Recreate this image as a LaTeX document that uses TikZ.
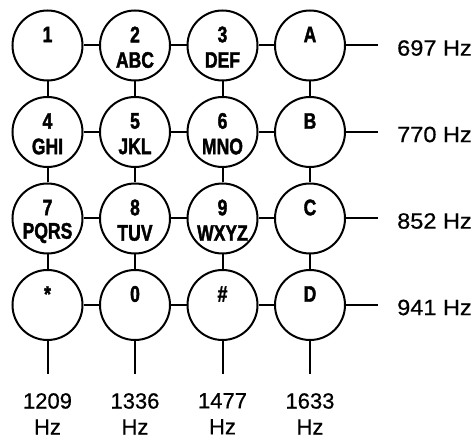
\documentclass[tikz,border=0pt]{standalone}
\usepackage{fontspec}
\usepackage{graphicx}
\setmainfont{Liberation Sans}
\newfontfamily\keyfont[BoldFeatures={FakeBold=2}]{Liberation Sans}
\newfontfamily\freqfont[FakeBold=0.6]{Liberation Sans}
\tikzset{
  keycircle/.style={circle, draw, line width=2pt, minimum size=70pt, inner sep=0pt},
  keytxt/.style={inner sep=0pt, font=\keyfont\bfseries\fontsize{22.5}{22.5}\selectfont},
  wire/.style={line width=2pt},
  freq/.style={inner sep=0pt, font=\freqfont\fontsize{22}{26}\selectfont, align=center},
}
% one key of the pad: name, x, y, upper text, lower text
\newcommand{\padkey}[5]{%
  \node[keycircle] (#1) at (#2,#3) {};
  \node[keytxt] (#1t) at ([yshift=11pt]#1.center) {\scalebox{0.78}[1]{#4}};
  \node[keytxt] (#1b) at ([yshift=-14.5pt]#1.center) {\scalebox{0.78}[1]{#5}};
}
\begin{document}
\begin{tikzpicture}[x=1pt,y=-1pt]
\useasboundingbox (0,0) rectangle (475,441);
% rows: 697, 770, 852, 941 Hz; columns: 1209, 1336, 1477, 1633 Hz
\padkey{k11}{47.5}{45.5}{1}{}
\padkey{k12}{135}{45.5}{2}{ABC}
\padkey{k13}{222.5}{45.5}{3}{DEF}
\padkey{k14}{310}{45.5}{A}{}
\padkey{k21}{47.5}{132}{4}{GHI}
\padkey{k22}{135}{132}{5}{JKL}
\padkey{k23}{222.5}{132}{6}{MNO}
\padkey{k24}{310}{132}{B}{}
\padkey{k31}{47.5}{218.5}{7}{PQRS}
\padkey{k32}{135}{218.5}{8}{TUV}
\padkey{k33}{222.5}{218.5}{9}{WXYZ}
\padkey{k34}{310}{218.5}{C}{}
\padkey{k41}{47.5}{305}{*}{}
\padkey{k42}{135}{305}{0}{}
\padkey{k43}{222.5}{305}{\#}{}
\padkey{k44}{310}{305}{D}{}
% grid wiring between keys
\foreach \r in {1,2,3,4}{
  \draw[wire] (k\r1) -- (k\r2);
  \draw[wire] (k\r2) -- (k\r3);
  \draw[wire] (k\r3) -- (k\r4);
}
\foreach \c in {1,2,3,4}{
  \draw[wire] (k1\c) -- (k2\c);
  \draw[wire] (k2\c) -- (k3\c);
  \draw[wire] (k3\c) -- (k4\c);
}
% row tones
\coordinate (r1) at (378,45.5);
\coordinate (r2) at (378,132);
\coordinate (r3) at (378,218.5);
\coordinate (r4) at (378,305);
\draw[wire] (k14) -- (r1);
\draw[wire] (k24) -- (r2);
\draw[wire] (k34) -- (r3);
\draw[wire] (k44) -- (r4);
\node[freq, anchor=west] (f1) at (397,48) {\scalebox{1.07}[1]{697 Hz}};
\node[freq, anchor=west] (f2) at (397,134.5) {\scalebox{1.07}[1]{770 Hz}};
\node[freq, anchor=west] (f3) at (397,221) {\scalebox{1.07}[1]{852 Hz}};
\node[freq, anchor=west] (f4) at (397,307.5) {\scalebox{1.07}[1]{941 Hz}};
% column tones
\coordinate (c1) at (47.5,374);
\coordinate (c2) at (135,374);
\coordinate (c3) at (222.5,374);
\coordinate (c4) at (310,374);
\draw[wire] (k41) -- (c1);
\draw[wire] (k42) -- (c2);
\draw[wire] (k43) -- (c3);
\draw[wire] (k44) -- (c4);
\node[freq, anchor=north] (g1) at (47.5,393) {1209\\Hz};
\node[freq, anchor=north] (g2) at (135,393) {1336\\Hz};
\node[freq, anchor=north] (g3) at (222.5,393) {1477\\Hz};
\node[freq, anchor=north] (g4) at (310,393) {1633\\Hz};
\end{tikzpicture}
\end{document}
